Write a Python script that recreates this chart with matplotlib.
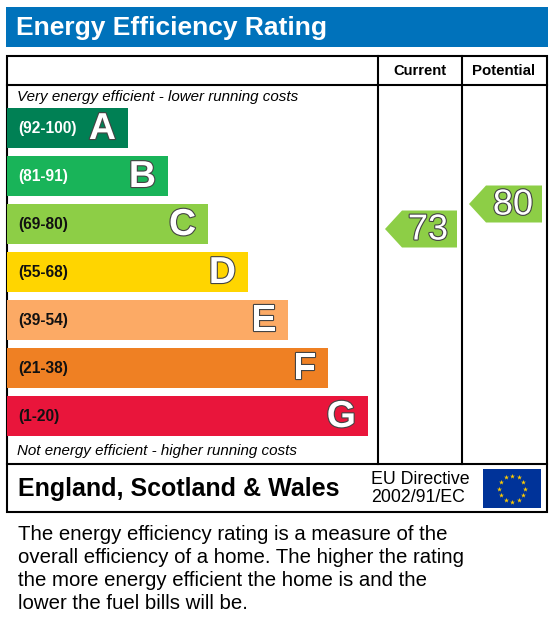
import numpy as np
import matplotlib
matplotlib.use("Agg")
import matplotlib.pyplot as plt
from matplotlib.patches import Rectangle, Polygon
import matplotlib.patheffects as pe

plt.rcParams['font.family'] = ['Liberation Sans', 'DejaVu Sans']

# band data
letters = ["A", "B", "C", "D", "E", "F", "G"]
ranges = ["(92-100)", "(81-91)", "(69-80)", "(55-68)", "(39-54)", "(21-38)", "(1-20)"]
colors = ["#008054", "#19b459", "#8dce46", "#ffd500", "#fcaa65", "#ef8023", "#e9153b"]
range_text_colors = ["white", "white", "#111111", "#111111", "#111111", "#111111", "#111111"]

current_rating = 73
potential_rating = 80

W, H = 554, 632
fig = plt.figure(figsize=(W / 100, H / 100), dpi=100)
ax = fig.add_axes([0, 0, 1, 1])
ax.set_xlim(0, W)
ax.set_ylim(H, 0)
ax.axis("off")

# header
ax.add_patch(Rectangle((6, 7), 542, 40, facecolor="#0072bb", edgecolor="none"))
ax.text(16, 28, "Energy Efficiency Rating", color="white", fontsize=19,
        fontweight="bold", va="center", ha="left")

# frame
lw = 1.5
ax.add_patch(Rectangle((7, 56), 540, 456, facecolor="none", edgecolor="black", lw=lw))
ax.plot([7, 547], [85, 85], color="black", lw=lw)
ax.plot([7, 547], [464, 464], color="black", lw=lw)
ax.plot([378, 378], [56, 464], color="black", lw=lw)
ax.plot([462, 462], [56, 464], color="black", lw=lw)

ax.text(420, 71, "Current", fontsize=10.6, fontweight="bold", ha="center", va="center")
ax.text(504, 71, "Potential", fontsize=10.8, fontweight="bold", ha="center", va="center")

ax.text(17, 97, "Very energy efficient - lower running costs", fontsize=10.9,
        style="italic", ha="left", va="center")
ax.text(17, 451, "Not energy efficient - higher running costs", fontsize=10.9,
        style="italic", ha="left", va="center")

outline = [pe.withStroke(linewidth=1.6, foreground="#444444")]
for i, (let, rng, col, tcol) in enumerate(zip(letters, ranges, colors, range_text_colors)):
    top = 108 + 48 * i
    right = 128 + 40 * i
    ax.add_patch(Rectangle((7, top), right - 7, 40, facecolor=col, edgecolor="none"))
    ax.text(18, top + 20, rng, color=tcol, fontsize=11.2, fontweight="bold",
            ha="left", va="center")
    ax.text(right - 12, top + 21, let, color="white", fontsize=27, fontweight="bold",
            ha="right", va="center", path_effects=outline)


def rating_y(v):
    # vertical position of the arrow inside the chart, by value
    return 229 - (v - 73) * 25 / 7.0


def rating_color(v):
    bounds = [92, 81, 69, 55, 39, 21, 1]
    for b, c in zip(bounds, colors):
        if v >= b:
            return c
    return colors[-1]


def arrow(x_tip, x_right, v):
    yc = rating_y(v)
    h = 37
    pts = [(x_tip, yc), (x_tip + 17, yc - h / 2), (x_right, yc - h / 2),
           (x_right, yc + h / 2), (x_tip + 17, yc + h / 2)]
    ax.add_patch(Polygon(pts, closed=True, facecolor=rating_color(v), edgecolor="none"))
    ax.text(x_right - 9, yc + 1, str(v), color="white", fontsize=26,
            ha="right", va="center", path_effects=outline)


arrow(385, 457, current_rating)
arrow(469, 542, potential_rating)

# footer
ax.text(18, 489, "England, Scotland & Wales", fontsize=18, fontweight="bold",
        ha="left", va="center")
ax.text(371, 479, "EU Directive", fontsize=12.8, ha="left", va="center")
ax.text(371, 497, "2002/91/EC", fontsize=12.8, ha="left", va="center")

# EU flag
ax.add_patch(Rectangle((483, 469), 58, 39, facecolor="#003399", edgecolor="none"))
ang = np.linspace(0, 2 * np.pi, 13)[:-1]
ax.scatter(512 + 13 * np.cos(ang), 488.5 + 13 * np.sin(ang), marker="*", s=14,
           color="#ffcc00", linewidths=0)

para = ["The energy efficiency rating is a measure of the",
        "overall efficiency of a home. The higher the rating",
        "the more energy efficient the home is and the",
        "lower the fuel bills will be."]
for i, line in enumerate(para):
    ax.text(18, 535 + 22.7 * i, line, fontsize=14.7, ha="left", va="center")

fig.savefig("out.png", dpi=100)
